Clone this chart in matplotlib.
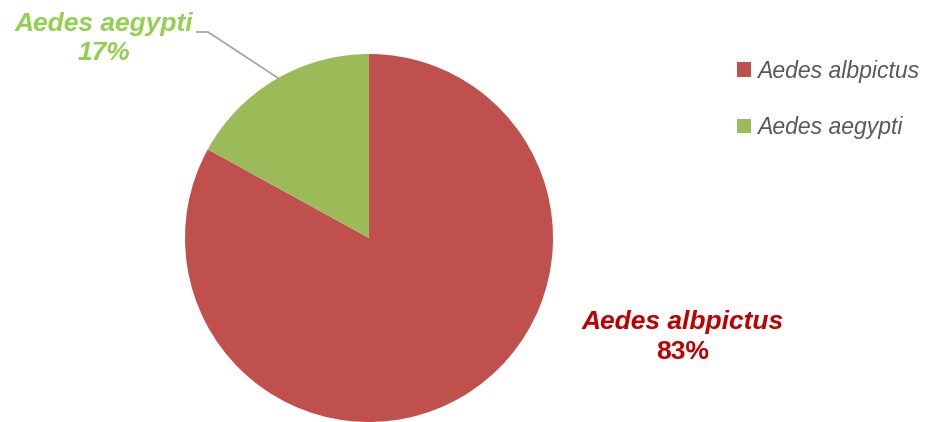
import matplotlib.pyplot as plt

species = ['Aedes albpictus', 'Aedes aegypti']
shares = [83, 17]
colors = ['#C0504D', '#9BBB59']

plt.rcParams['font.family'] = ['Liberation Sans', 'DejaVu Sans']

fig = plt.figure(figsize=(9.34, 4.22), dpi=100)
ax = fig.add_axes([0, 0, 1, 1])

wedges, _ = ax.pie(shares, colors=colors, startangle=90, counterclock=False,
                   center=(369, 184), radius=184, frame=True)
ax.set_xlim(0, 934)
ax.set_ylim(0, 422)
ax.set_aspect('equal')
ax.axis('off')

# data labels
ax.text(683, 422 - 322, species[0], color='#C00000', fontsize=19,
        fontweight='bold', fontstyle='italic', ha='center', va='center')
ax.text(683, 422 - 352, f'{shares[0]}%', color='#C00000', fontsize=19,
        fontweight='bold', ha='center', va='center')
ax.text(104, 422 - 24, species[1], color='#92D050', fontsize=19,
        fontweight='bold', fontstyle='italic', ha='center', va='center')
ax.text(104, 422 - 53, f'{shares[1]}%', color='#92D050', fontsize=19,
        fontweight='bold', fontstyle='italic', ha='center', va='center')

# leader line for the small slice
ax.plot([197, 208, 278], [422 - 32, 422 - 32, 422 - 78], color='#A6A6A6', lw=1.3)

leg = ax.legend(wedges, species, loc='upper left', bbox_to_anchor=(716, 422 - 39),
                bbox_transform=ax.transData, frameon=False,
                handlelength=0.6, handleheight=0.6, handletextpad=0.3,
                labelspacing=1.45, prop={'style': 'italic', 'size': 16.6})
for t in leg.get_texts():
    t.set_color('#595959')

fig.savefig('out.png', dpi=100)
